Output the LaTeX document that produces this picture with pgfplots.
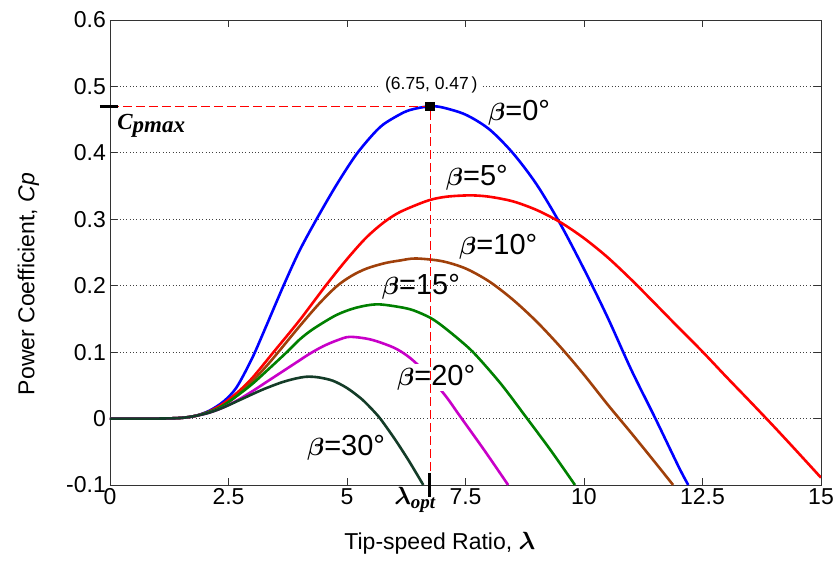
\documentclass[border=0pt]{standalone}
\usepackage{fontspec}
\setmainfont{Liberation Sans}
\newfontfamily\timesfont{Liberation Serif}
\usepackage{bm}
\usepackage{pgfplots}
\pgfplotsset{compat=1.18}
\definecolor{cpblue}{RGB}{0,0,255}
\definecolor{cpred}{RGB}{255,0,0}
\definecolor{cpbrown}{RGB}{160,64,10}
\definecolor{cpgreen}{RGB}{0,128,0}
\definecolor{cpmag}{RGB}{200,0,200}
\definecolor{cpdark}{RGB}{20,60,40}
\begin{document}
\begin{tikzpicture}
\useasboundingbox (-110pt,-77pt) rectangle (728pt,485pt);
\begin{axis}[
  at={(0,0)}, anchor=south west,
  scale only axis, width=711pt, height=465pt,
  xmin=0, xmax=15, ymin=-0.1, ymax=0.6,
  xtick={0,2.5,5,7.5,10,12.5,15},
  xticklabels={0,2.5,5,7.5,10,12.5,15},
  ytick={-0.1,0,0.1,0.2,0.3,0.4,0.5,0.6},
  yticklabels={-0.1,0,0.1,0.2,0.3,0.4,0.5,0.6},
  tick align=inside, major tick length=7pt,
  ymajorgrids, grid style={black!75, line width=0.9pt, dash pattern=on 0.9pt off 2.4pt},
  axis line style={black!80, line width=0.8pt},
  every tick/.style={black!80, line width=0.8pt},
  tick label style={font=\fontsize{23}{27}\selectfont},
  xticklabel style={anchor=north, inner sep=3pt},
  yticklabel style={anchor=east, inner sep=4pt},
  every axis x label/.style={at={(axis description cs:0.464,-0.125)}, anchor=center, font=\fontsize{23}{27}\selectfont},
  every axis y label/.style={at={(axis description cs:-0.1146,0.432)}, anchor=center, rotate=90, font=\fontsize{23}{27}\selectfont},
  xlabel={Tip-speed Ratio, $\bm{\lambda}$},
  ylabel={Power Coefficient, \textit{Cp}},
  clip mode=individual,
  every axis plot/.append style={line width=2.6pt, smooth},
]
% beta = 0
\addplot[cpblue] coordinates {
(0,0)(1.0,0)(1.5,0.001)(1.8,0.004)(2.1,0.012)(2.4,0.026)(2.67,0.047)(3.0,0.091)(3.3,0.14)(3.66,0.2)(4.0,0.253)(4.38,0.303)(4.78,0.352)(5.17,0.395)(5.5,0.424)(5.77,0.443)(6.2,0.461)(6.47,0.467)(6.75,0.47)(7.0,0.4686)(7.5,0.4576)(8.0,0.4356)(8.5,0.3996)(9.0,0.3525)(9.5,0.293)(10.0,0.225)(10.5,0.152)(11.0,0.073)(11.5,0.001)(12.0,-0.073)(12.2,-0.1)};
% beta = 5
\addplot[cpred] coordinates {
(0,0)(1.0,0)(1.5,0.001)(1.8,0.004)(2.1,0.011)(2.4,0.023)(2.7,0.04)(3.0,0.061)(3.45,0.1)(4.0,0.148)(4.55,0.2)(5.0,0.24)(5.4,0.272)(5.77,0.295)(6.12,0.311)(6.7,0.328)(7.1,0.334)(7.6,0.336)(8.0,0.334)(8.5,0.327)(9.0,0.314)(9.5,0.2956)(10.0,0.2715)(10.5,0.2426)(11.0,0.209)(11.5,0.173)(12.0,0.1366)(12.5,0.1007)(13.0,0.063)(13.5,0.026)(14.0,-0.0115)(14.5,-0.05)(15.0,-0.089)};
% beta = 10
\addplot[cpbrown] coordinates {
(0,0)(1.0,0)(1.5,0.001)(1.8,0.004)(2.1,0.01)(2.4,0.02)(2.7,0.036)(3.0,0.056)(3.3,0.079)(3.55,0.1)(4.0,0.139)(4.4,0.172)(4.78,0.199)(5.1,0.215)(5.42,0.226)(5.8,0.234)(6.12,0.238)(6.45,0.241)(7.0,0.237)(7.5,0.226)(8.0,0.2064)(8.5,0.179)(9.0,0.146)(9.5,0.108)(10.0,0.066)(10.5,0.021)(11.0,-0.022)(11.5,-0.066)(11.88,-0.1)};
% beta = 15
\addplot[cpgreen] coordinates {
(0,0)(1.0,0)(1.5,0.001)(1.8,0.004)(2.0,0.008)(2.3,0.016)(2.6,0.03)(3.0,0.052)(3.4,0.078)(3.73,0.1)(4.0,0.119)(4.29,0.135)(4.78,0.156)(5.2,0.167)(5.63,0.172)(6.1,0.168)(6.4,0.163)(6.75,0.152)(7.0,0.14)(7.38,0.118)(7.7,0.097)(8.25,0.052)(8.8,0.0)(9.3,-0.048)(9.81,-0.1)};
% beta = 20
\addplot[cpmag] coordinates {
(0,0)(1.0,0)(1.5,0.001)(1.8,0.004)(2.1,0.009)(2.4,0.017)(2.7,0.028)(3.0,0.041)(3.3,0.055)(3.6,0.069)(3.9,0.083)(4.2,0.097)(4.5,0.109)(4.8,0.118)(5.06,0.123)(5.5,0.119)(5.98,0.107)(6.3,0.093)(6.65,0.07)(7.07,0.035)(7.38,0.004)(7.9,-0.048)(8.4,-0.1)};
% beta = 30
\addplot[cpdark] coordinates {
(0,0)(1.0,0)(1.5,0.001)(1.8,0.004)(2.1,0.009)(2.4,0.017)(2.8,0.03)(3.2,0.043)(3.6,0.054)(3.9,0.06)(4.15,0.063)(4.4,0.062)(4.7,0.057)(5.0,0.046)(5.3,0.03)(5.5,0.016)(5.7,0.0)(6.0,-0.03)(6.3,-0.063)(6.61,-0.1)};
% curve labels
\begin{scope}[every node/.style={font=\fontsize{29}{33}\selectfont, inner sep=1pt}]
\node at (axis cs:8.63,0.461) {$\bm{\beta}$=0°};
\node at (axis cs:7.74,0.363) {$\bm{\beta}$=5°};
\node at (axis cs:8.19,0.258) {$\bm{\beta}$=10°};
\node at (axis cs:6.56,0.199) {$\bm{\beta}$=15°};
\node[fill=white] at (axis cs:6.88,0.062) {$\bm{\beta}$=20°};
\node at (axis cs:4.98,-0.044) {$\bm{\beta}$=30°};
\end{scope}
% optimum markers
\addplot[cpred, line width=0.8pt, sharp plot, dash pattern=on 9pt off 4pt] coordinates {(0,0.47)(6.75,0.47)(6.75,-0.1)};
\draw[black, line width=3pt] ([xshift=-10pt]axis cs:0,0.47) -- ([xshift=8pt]axis cs:0,0.47);
\draw[black, line width=3pt] ([yshift=12pt]axis cs:6.75,-0.1) -- ([yshift=-12pt]axis cs:6.75,-0.1);
\addplot[only marks, mark=square*, mark size=4.3pt, black, line width=0.5pt] coordinates {(6.75,0.47)};
\node[fill=white, inner xsep=4pt, inner ysep=1pt, font=\fontsize{17.5}{20}\selectfont] at (axis cs:6.78,0.502) {(6.75, 0.47\,)};
\node[anchor=west, inner sep=0pt, font=\fontsize{23}{27}\selectfont\timesfont\bfseries\itshape] at (axis cs:0.15,0.441) {C\raisebox{-3pt}{pmax}};
\node[inner sep=0pt] at ([yshift=-15pt]axis cs:6.43,-0.1) {\fontsize{25}{28}\selectfont$\bm{\lambda}$\raisebox{-4pt}{\fontsize{19}{22}\selectfont\timesfont\bfseries\itshape opt}};
\end{axis}
\end{tikzpicture}
\end{document}
